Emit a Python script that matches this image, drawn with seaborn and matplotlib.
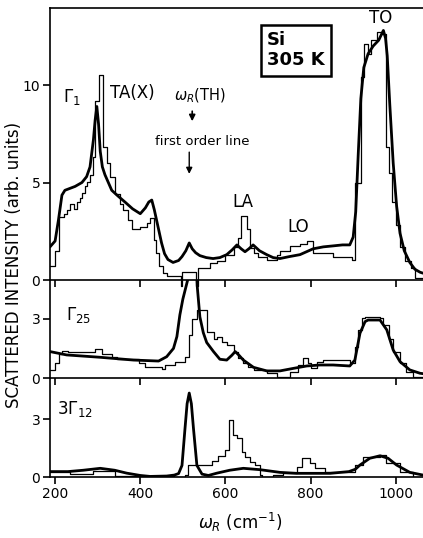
import matplotlib
matplotlib.use("Agg")
import matplotlib.pyplot as plt
import seaborn as sns
import numpy as np

# ---------------- data ----------------
# x positions are Raman shift omega_R (cm^-1)
top_hist_edges = [188,200,208,220,228,236,244,252,258,264,270,276,282,288,294,304,313,322,329,341,
                  353,360,372,380,400,415,423,432,437,443,454,462,495,499,531,535,564,580,600,619,
                  630,637,651,658,666,677,697,720,728,752,775,791,806,853,898,904,918,925,935,943,
                  955,967,978,984,992,1000,1010,1022,1035,1045,1064]
top_hist_vals = [0.7,1.5,3.25,3.4,3.6,3.9,3.65,4.0,4.2,4.45,4.8,5.05,5.4,6.3,9.2,10.5,6.8,6.0,5.3,4.4,
                 3.9,3.6,3.1,2.6,2.7,2.9,3.2,2.05,1.4,0.7,0.35,0.2,-0.3,0.4,-0.3,0.6,0.85,1.0,1.3,1.7,
                 2.15,3.3,2.6,1.65,1.4,1.2,1.05,1.3,1.5,1.75,1.85,2.0,1.4,1.2,1.05,5.0,10.4,12.1,11.6,12.3,
                 12.7,12.6,6.8,5.5,4.0,2.8,1.7,1.0,0.6,0.1]

top_curve_x = [188,200,208,216,223,235,247,263,274,282,290,294,298,302,306,311,317,325,333,348,
               364,382,400,412,420,427,433,442,450,457,465,477,490,498,507,515,522,530,540,555,
               571,587,603,616,627,637,646,655,665,680,697,712,728,750,775,806,830,853,875,892,
               900,906,912,918,925,935,947,960,971,976,980,986,994,1002,1010,1020,1033,1045,1057,1064]
top_curve_y = [1.7,2.0,3.1,4.35,4.6,4.7,4.8,5.0,5.3,5.8,7.2,8.2,8.9,8.0,6.6,5.8,5.4,5.0,4.6,4.3,
               4.0,3.65,3.4,3.7,4.0,4.1,3.6,2.7,1.9,1.35,1.05,0.9,1.0,1.2,1.5,1.9,1.6,1.4,1.25,1.15,
               1.1,1.15,1.3,1.55,1.8,1.6,1.45,1.6,1.8,1.5,1.3,1.15,1.1,1.2,1.3,1.6,1.7,1.75,1.8,1.8,
               2.2,3.5,6.5,9.3,10.9,11.6,12.0,12.3,12.8,12.4,11.5,9.0,6.0,3.8,2.4,1.5,0.9,0.55,0.4,0.35]

mid_hist_edges = [188,200,208,216,231,294,310,333,345,396,411,450,458,482,505,515,521,533,556,572,
                  580,591,603,619,630,642,654,666,697,720,752,771,783,795,802,814,830,892,904,912,
                  920,928,963,971,983,994,1010,1025,1041,1064]
mid_hist_vals = [0.41,0.75,1.2,1.38,1.34,1.45,1.22,1.08,0.95,0.75,0.58,0.46,0.66,0.83,1.08,2.18,3.0,3.45,2.35,2.0,
                 2.1,1.84,1.67,1.34,1.0,0.74,0.57,0.4,0.24,0.07,0.32,0.66,1.0,0.74,0.49,0.83,0.91,0.74,1.59,2.44,
                 3.03,3.1,3.03,2.7,2.0,1.34,0.74,0.32,0.07]

mid_curve_x = [188,227,306,384,443,462,478,486,493,500,507,514,520,526,530,534,540,548,556,572,
               587,603,615,623,632,642,666,697,728,760,791,822,853,892,904,916,928,935,963,979,
               994,1010,1033,1057,1064]
mid_curve_y = [1.34,1.17,1.05,0.91,0.86,1.08,1.5,2.1,3.2,4.0,4.6,5.2,6.5,8.0,6.5,4.6,3.1,2.3,1.8,1.34,
               0.95,0.91,1.15,1.34,1.15,0.91,0.54,0.36,0.36,0.49,0.61,0.66,0.66,0.61,0.91,2.27,2.86,2.94,2.94,2.44,
               1.42,0.83,0.41,0.24,0.22]

bot_hist_edges = [188,235,290,340,480,505,513,568,583,599,608,618,626,638,646,658,669,681,685,712,
                  736,767,779,799,811,834,904,924,963,978,1010,1041,1064]
bot_hist_vals = [0.25,0.15,0.3,0.05,0.0,0.1,0.6,0.84,1.1,1.4,2.95,2.2,2.0,1.31,1.05,0.8,0.62,0.1,0.02,0.1,
                 0.2,0.54,0.97,0.71,0.45,0.28,0.62,1.05,1.14,0.7,0.28,0.02]

bot_curve_x = [188,230,266,306,340,368,400,423,462,480,490,498,505,510,515,520,525,533,545,560,
               580,610,642,681,728,767,846,890,905,916,939,963,982,1002,1033,1064]
bot_curve_y = [0.28,0.28,0.35,0.45,0.35,0.2,0.08,0.03,0.05,0.1,0.18,0.6,2.5,3.8,4.35,3.8,2.5,0.6,0.15,0.08,
               0.2,0.35,0.45,0.38,0.24,0.19,0.19,0.28,0.4,0.62,0.97,1.1,0.97,0.62,0.24,0.1]

x_ticks = [200, 400, 600, 800, 1000]
top_yticks = [0, 5, 10]
low_yticks = [0, 3]

assert len(top_hist_vals) == len(top_hist_edges) - 1
assert len(mid_hist_vals) == len(mid_hist_edges) - 1
assert len(bot_hist_vals) == len(bot_hist_edges) - 1
assert len(top_curve_x) == len(top_curve_y)
assert len(mid_curve_x) == len(mid_curve_y)
assert len(bot_curve_x) == len(bot_curve_y)

# ---------------- style ----------------
sns.set_style("ticks")
plt.rcParams['font.family'] = ['DejaVu Sans']
plt.rcParams['mathtext.fontset'] = 'dejavusans'
plt.rcParams['text.color'] = 'black'
plt.rcParams['axes.labelcolor'] = 'black'
plt.rcParams['xtick.color'] = 'black'
plt.rcParams['ytick.color'] = 'black'

fig = plt.figure(figsize=(4.23, 5.38), dpi=100)
gs = fig.add_gridspec(3, 1, height_ratios=[272, 98, 99], hspace=0,
                      left=50/423, right=1.0, top=1-8/538, bottom=1-477/538)
axes = [fig.add_subplot(gs[i]) for i in range(3)]
ylims = [(0, 13.95), (0, 4.97), (0, 5.13)]

panels = [(top_hist_edges, top_hist_vals, top_curve_x, top_curve_y),
          (mid_hist_edges, mid_hist_vals, mid_curve_x, mid_curve_y),
          (bot_hist_edges, bot_hist_vals, bot_curve_x, bot_curve_y)]

for i, (ax, (he, hv, cx, cy)) in enumerate(zip(axes, panels)):
    hy = list(hv) + [hv[-1]]
    sns.lineplot(x=he, y=hy, ax=ax, color='black', lw=0.9, drawstyle='steps-post',
                 estimator=None, sort=False, clip_on=(i != 0))
    sns.lineplot(x=cx, y=cy, ax=ax, color='black', lw=2.0,
                 estimator=None, sort=False)
    ax.set_xlim(188, 1064)
    ax.set_ylim(*ylims[i])
    ax.set_xticks(x_ticks)
    ax.set_yticks(top_yticks if i == 0 else low_yticks)
    ax.tick_params(direction='out', length=5, width=1.2, labelsize=10, pad=2,
                   colors='black', labelcolor='black')
    ax.spines['right'].set_visible(False)
    if i > 0:
        ax.spines['top'].set_visible(False)
    for s in ['left', 'bottom', 'top']:
        ax.spines[s].set_linewidth(1.2)
        ax.spines[s].set_color('black')
    if i < 2:
        ax.tick_params(labelbottom=False)
    ax.set_xlabel('')
    ax.set_ylabel('')
    ax.patch.set_alpha(0)

ax0, ax1, ax2 = axes
ax0.text(240, 9.4, r'$\Gamma_1$', fontsize=12, ha='center', va='center', color='black')
ax0.text(382, 9.6, 'TA(X)', fontsize=12, ha='center', va='center', color='black')
ax0.text(540, 9.45, r'$\omega_R$(TH)', fontsize=10.5, ha='center', va='center', color='black')
ax0.annotate('', xy=(522, 8.0), xytext=(522, 8.8),
             arrowprops=dict(arrowstyle='-|>', color='black', lw=1.2, mutation_scale=9))
ax0.text(545, 7.1, 'first order line', fontsize=9.5, ha='center', va='center', color='black')
ax0.annotate('', xy=(515, 5.3), xytext=(515, 6.7),
             arrowprops=dict(arrowstyle='-|>', color='black', lw=1.0, mutation_scale=9))
ax0.text(641, 4.0, 'LA', fontsize=12, ha='center', va='center', color='black')
ax0.text(770, 2.7, 'LO', fontsize=12, ha='center', va='center', color='black')
ax0.text(965, 13.45, 'TO', fontsize=12, ha='center', va='center', color='black')
ax0.text(698, 12.75, 'Si\n305 K', fontsize=13, fontweight='bold', ha='left', va='top',
         linespacing=1.15, color='black',
         bbox=dict(boxstyle='square,pad=0.35', fc='white', ec='black', lw=1.8))

ax1.text(256, 3.2, r'$\Gamma_{25}$', fontsize=12, ha='center', va='center', color='black')
ax2.text(247, 3.5, r'3$\Gamma_{12}$', fontsize=12, ha='center', va='center', color='black')

fig.text(0.033, 0.507, 'SCATTERED INTENSITY (arb. units)', rotation=90,
         ha='center', va='center', fontsize=12, color='black')
fig.text(0.567, 0.028, r'$\omega_R$ (cm$^{-1}$)', ha='center', va='center', fontsize=12,
         color='black')

fig.savefig('out.png', dpi=100)
